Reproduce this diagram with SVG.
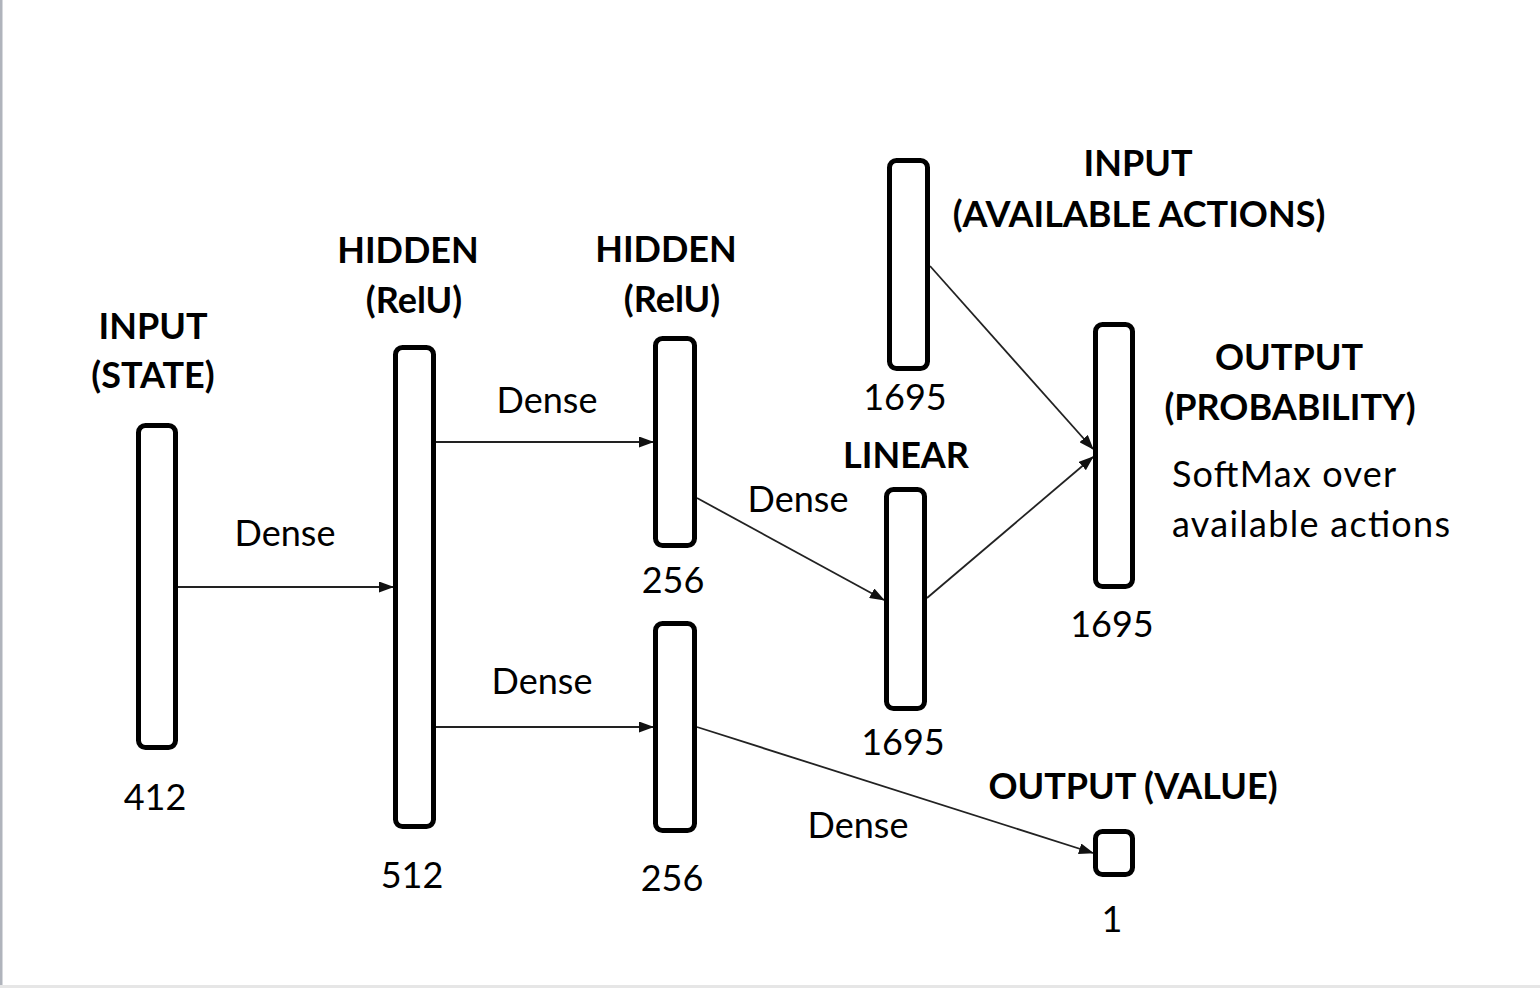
<svg xmlns="http://www.w3.org/2000/svg" width="1540" height="988" viewBox="0 0 1540 988">
<style>
.node{fill:#fff;stroke:#000;stroke-width:5}
.conn{fill:none;stroke:#222;stroke-width:1.8}
.t{font-family:Lato,"Open Sans","Liberation Sans",sans-serif;font-size:36px;fill:#000}
.b{font-weight:bold}
.m{text-anchor:middle}
</style>
<defs>
<marker id="arr" markerWidth="15" markerHeight="11" refX="14" refY="5.5" orient="auto" markerUnits="userSpaceOnUse">
<path d="M0,0 L15,5.5 L0,11 Z" fill="#111"/>
</marker>
</defs>
<rect x="0" y="0" width="1540" height="988" fill="#fff"/>
<rect x="0" y="0" width="2.5" height="988" fill="#b0b4bc"/>
<rect x="0" y="985" width="1540" height="3" fill="#e6e6e6"/>

<g id="connectors">
<line class="conn" x1="178" y1="587" x2="393" y2="587" marker-end="url(#arr)"/>
<line class="conn" x1="436" y1="442" x2="653" y2="442" marker-end="url(#arr)"/>
<line class="conn" x1="436" y1="727" x2="653" y2="727" marker-end="url(#arr)"/>
<line class="conn" x1="697" y1="498" x2="884" y2="600" marker-end="url(#arr)"/>
<line class="conn" x1="697" y1="727" x2="1093" y2="853" marker-end="url(#arr)"/>
<line class="conn" x1="930" y1="266" x2="1093" y2="449" marker-end="url(#arr)"/>
<line class="conn" x1="927" y1="598" x2="1093" y2="457" marker-end="url(#arr)"/>
<text class="t m" x="285" y="546">Dense</text>
<text class="t m" x="547" y="413">Dense</text>
<text class="t m" x="542" y="694">Dense</text>
<text class="t m" x="798" y="512">Dense</text>
<text class="t m" x="858" y="838">Dense</text>
</g>

<g id="input-state">
<rect class="node" x="138.5" y="425.5" width="37" height="322" rx="7"/>
<text class="t b m" x="153" y="339">INPUT</text>
<text class="t b m" x="153" y="388">(STATE)</text>
<text class="t m" x="155" y="810">412</text>
</g>

<g id="hidden-512">
<rect class="node" x="395.5" y="347.5" width="38" height="479" rx="7"/>
<text class="t b m" x="408" y="263">HIDDEN</text>
<text class="t b m" x="414" y="313">(RelU)</text>
<text class="t m" x="412" y="888">512</text>
</g>

<g id="hidden-256-top">
<rect class="node" x="655.5" y="338.5" width="39" height="207" rx="7"/>
<text class="t b m" x="666" y="262">HIDDEN</text>
<text class="t b m" x="672" y="312">(RelU)</text>
<text class="t m" x="673" y="593">256</text>
</g>

<g id="hidden-256-bottom">
<rect class="node" x="655.5" y="623.5" width="39" height="207" rx="7"/>
<text class="t m" x="672" y="891">256</text>
</g>

<g id="input-actions">
<rect class="node" x="889.5" y="160.5" width="38" height="208" rx="7"/>
<text class="t b m" x="1138" y="176">INPUT</text>
<text class="t b m" x="1139" y="227">(AVAILABLE ACTIONS)</text>
<text class="t m" x="905" y="410">1695</text>
</g>

<g id="linear">
<rect class="node" x="886.5" y="489.5" width="38" height="219" rx="7"/>
<text class="t b m" x="906" y="468">LINEAR</text>
<text class="t m" x="903" y="755">1695</text>
</g>

<g id="output-probability">
<rect class="node" x="1095.5" y="324.5" width="37" height="262" rx="7"/>
<text class="t b m" x="1289" y="370">OUTPUT</text>
<text class="t b m" x="1290" y="420">(PROBABILITY)</text>
<text class="t" x="1172" y="487" textLength="224" lengthAdjust="spacing">SoftMax over</text>
<text class="t" x="1172" y="537" textLength="278" lengthAdjust="spacing">available actions</text>
<text class="t m" x="1112" y="637">1695</text>
</g>

<g id="output-value">
<rect class="node" x="1095.5" y="831.5" width="37" height="43" rx="7"/>
<text class="t b m" x="1133" y="799">OUTPUT (VALUE)</text>
<text class="t m" x="1112" y="932">1</text>
</g>
</svg>
